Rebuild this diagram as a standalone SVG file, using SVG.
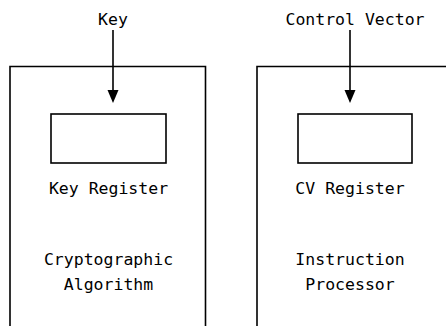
<svg xmlns="http://www.w3.org/2000/svg" width="446" height="326" viewBox="0 0 446 326">
  <style>
    .frame { fill: none; stroke: #000; stroke-width: 1.6; }
    .reg { fill: #fff; stroke: #000; stroke-width: 1.6; }
    .lbl { font-family: "DejaVu Sans Mono", "Liberation Mono", monospace; font-size: 16.5px; fill: #000; text-anchor: middle; }
    .wire { stroke: #000; stroke-width: 1.6; fill: none; }
    .head { fill: #000; }
  </style>
  <rect width="446" height="326" fill="#fff"/>

  <!-- Cryptographic facility, open at the bottom -->
  <g id="crypto-unit">
    <path class="frame" d="M10,326 V66.5 H205.5 V326"/>
    <rect class="reg" x="51" y="114" width="115" height="49"/>
    <text class="lbl" x="108.5" y="194">Key Register</text>
    <text class="lbl" x="108.5" y="265">Cryptographic</text>
    <text class="lbl" x="108.5" y="290">Algorithm</text>
  </g>

  <!-- Instruction processor, open at the bottom and right -->
  <g id="instruction-unit">
    <path class="frame" d="M257,326 V66.5 H446"/>
    <rect class="reg" x="298" y="114" width="114" height="49"/>
    <text class="lbl" x="350" y="194">CV Register</text>
    <text class="lbl" x="350" y="265">Instruction</text>
    <text class="lbl" x="350" y="290">Processor</text>
  </g>

  <g id="inputs">
    <text class="lbl" x="113" y="25">Key</text>
    <text class="lbl" x="355" y="25">Control Vector</text>
  </g>

  <g id="connectors">
    <line class="wire" x1="113" y1="30" x2="113" y2="92"/>
    <path class="head" d="M107.5,90 L118.5,90 L113,103 Z"/>
    <line class="wire" x1="350" y1="30" x2="350" y2="92"/>
    <path class="head" d="M344.5,90 L355.5,90 L350,103 Z"/>
  </g>
</svg>
